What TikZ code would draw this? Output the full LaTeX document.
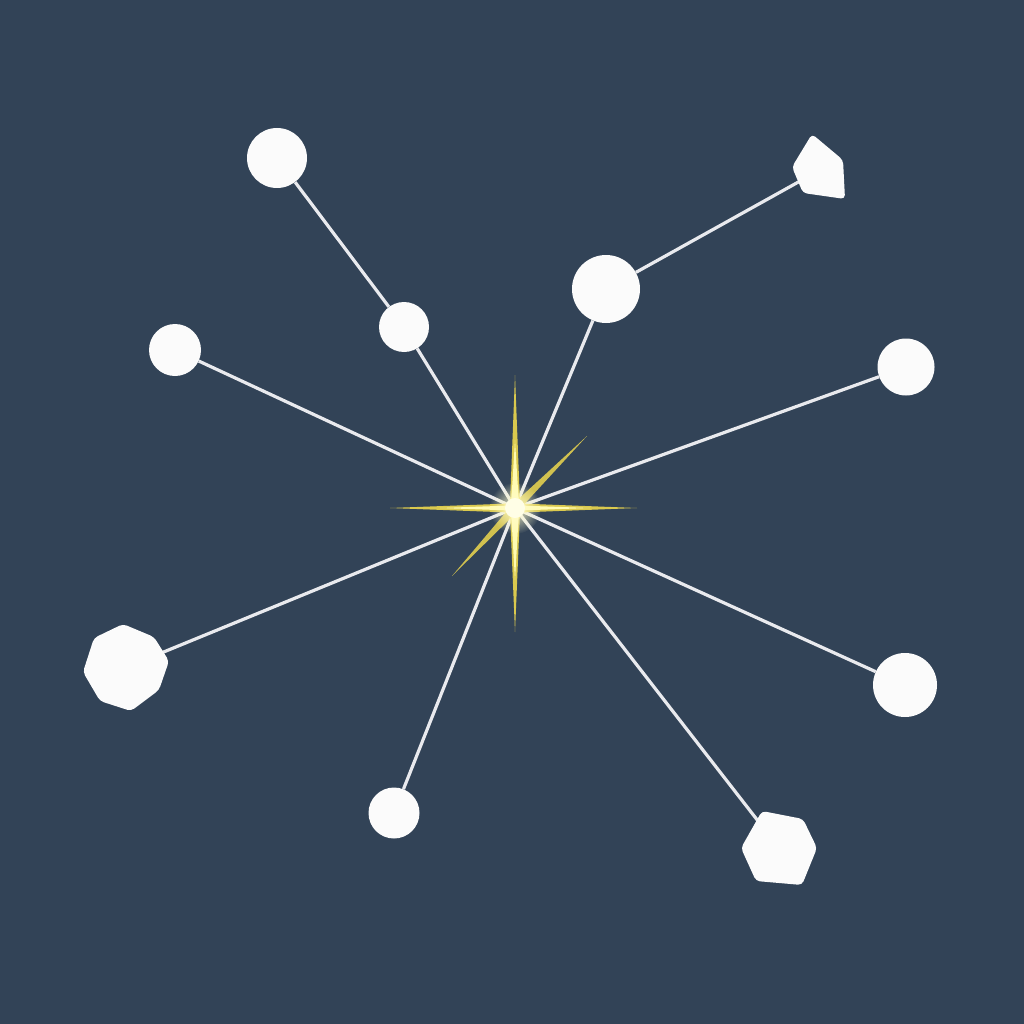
\documentclass[tikz,border=0pt]{standalone}
\usetikzlibrary{backgrounds,fadings}
\definecolor{bgc}{HTML}{324357}
\definecolor{linec}{HTML}{E9EAEE}
\definecolor{nodec}{HTML}{FBFBFB}
\definecolor{spikec}{HTML}{EDD84E}
\tikzfading[name=glowfade, inner color=transparent!0, outer color=transparent!100]
\tikzset{
  dot/.style={circle, fill=nodec, inner sep=0pt, draw=none},
  link/.style={draw=linec, line width=3.2pt},
  shapefill/.style={fill=nodec, rounded corners=4pt},
}
\begin{document}
\begin{tikzpicture}[x=1pt,y=-1pt]
\useasboundingbox (0,0) rectangle (1024,1024);
\coordinate (O) at (515,508);
% nodes
\node[dot, minimum size=60pt] (A) at (277,158) {};
\node[dot, minimum size=50pt] (B) at (404,327) {};
\node[dot, minimum size=52pt] (C) at (175,350) {};
\node[dot, minimum size=68pt] (D) at (606,289) {};
\node[dot, minimum size=57pt] (F) at (906,367) {};
\node[dot, minimum size=64pt] (G) at (905,685) {};
\node[dot, minimum size=51pt] (I) at (394,813) {};
\coordinate (E) at (820,170);
\coordinate (H) at (779,848);
\coordinate (J) at (127,667);
\fill[shapefill] (812,134) -- (843,160) -- (845,199) -- (803,193) -- (792,167) -- cycle;
\fill[shapefill] (762,811) -- (803,819) -- (817,848) -- (802,885) -- (756,881) -- (741,848) -- cycle;
\fill[shapefill] (123,624) -- (154,637) -- (169,661) -- (159,690) -- (131,711) -- (100,701) -- (83,672) -- (94,638) -- cycle;
% connectors
\begin{scope}[on background layer]
\fill[bgc] (0,0) rectangle (1024,1024);
\draw[link] (A) -- (B);
\draw[link] (B) -- (O);
\draw[link] (C) -- (O);
\draw[link] (D) -- (O);
\draw[link] (D) -- (E);
\draw[link] (F) -- (O);
\draw[link] (G) -- (O);
\draw[link] (H) -- (O);
\draw[link] (I) -- (O);
\draw[link] (J) -- (O);
\end{scope}
% star
\fill[spikec, opacity=0.9] (390,508) -- (510,503.5) -- (515,375) -- (520,503.5) -- (637,508) -- (520,512.5) -- (515,632) -- (510,512.5) -- cycle;
\fill[spikec, opacity=0.85] (452,576) -- (512,505) -- (587,436) -- (518,511) -- cycle;
\fill[yellow!30!white] (440,508) -- (511,505.5) -- (515,440) -- (519,505.5) -- (590,508) -- (519,510.5) -- (515,580) -- (511,510.5) -- cycle;
\fill[yellow!20!white, path fading=glowfade] (O) circle (26);
\fill[yellow!10!white] (O) circle (10);
\end{tikzpicture}
\end{document}
